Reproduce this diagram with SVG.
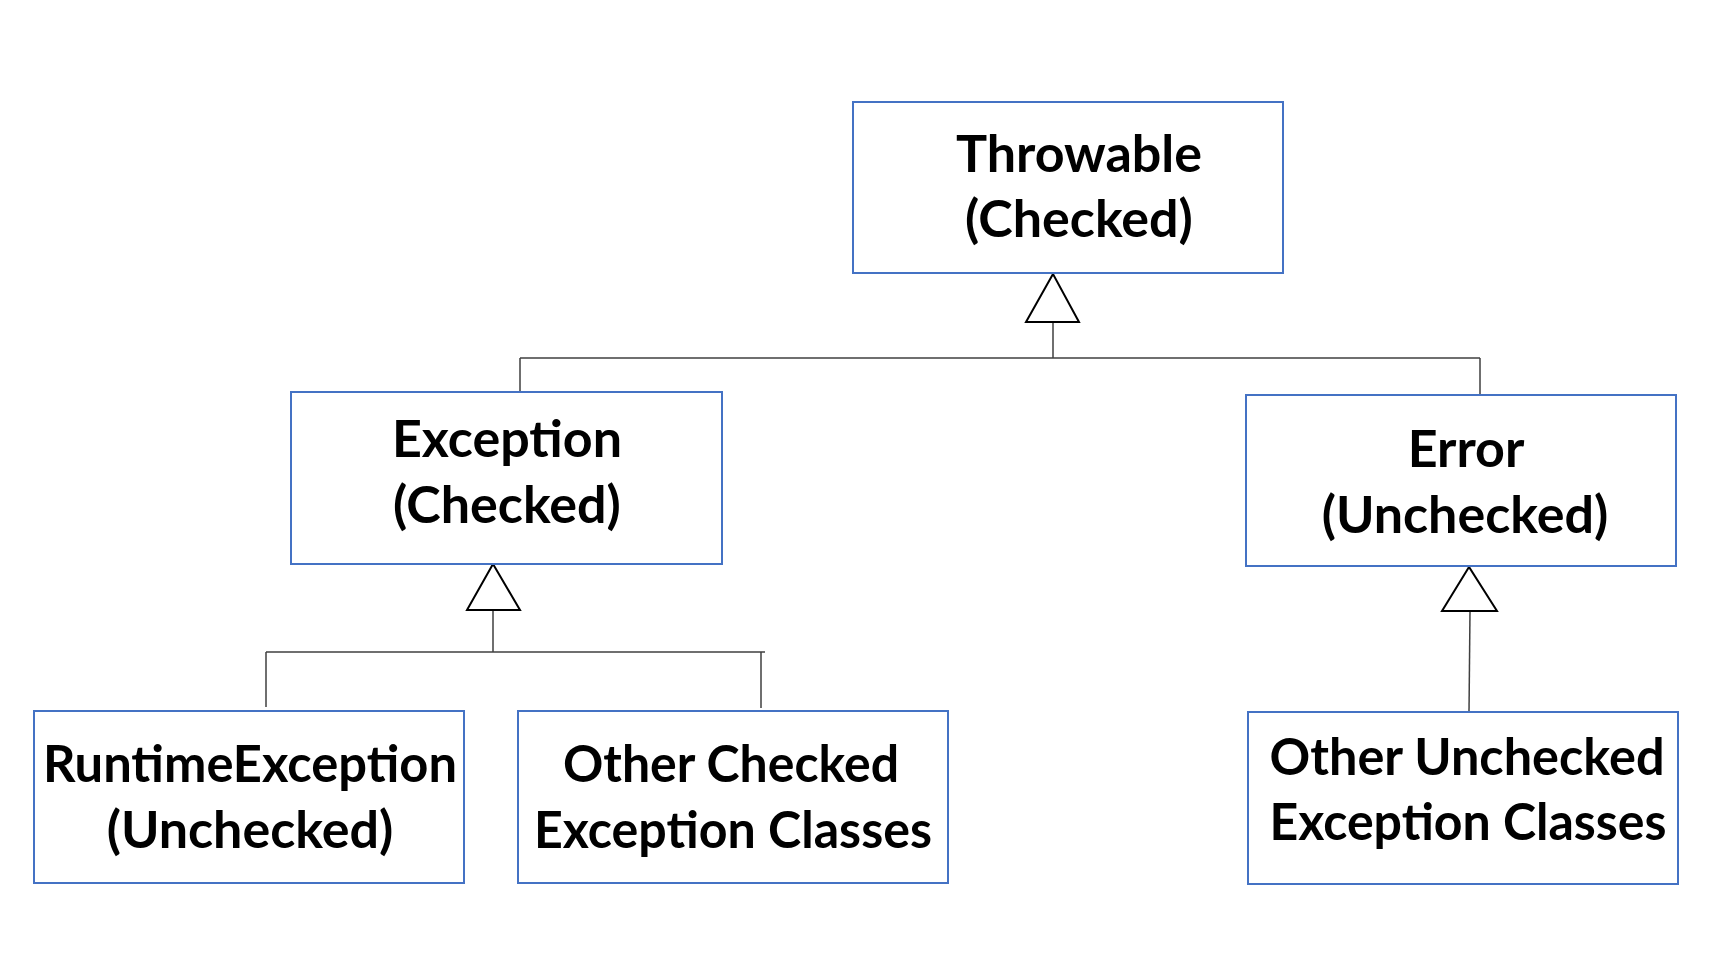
<svg xmlns="http://www.w3.org/2000/svg" width="1724" height="960" viewBox="0 0 1724 960">
<style>
.box{fill:#fff;stroke:#4472C4;stroke-width:2}
.lbl{font-family:Lato,"Open Sans","Liberation Sans",sans-serif;font-weight:bold;font-size:52px;fill:#000;text-anchor:middle}
.con{fill:none;stroke:#404040;stroke-width:1.5}
.tri{fill:#fff;stroke:#000;stroke-width:2}
</style>
<rect width="1724" height="960" fill="#fff"/>
<g id="connectors">
<path class="con" d="M1053 322V358M520 358H1480M520 358V392M1480 358V395"/>
<path class="con" d="M493 610V652M266 652H765M266 652V707M761 652V708"/>
<path class="con" d="M1470 611L1469 712"/>
<polygon class="tri" points="1053,274 1026,322 1079,322"/>
<polygon class="tri" points="493,564 467,610 520,610"/>
<polygon class="tri" points="1469,567 1442,611 1497,611"/>
</g>
<g id="throwable">
<rect class="box" x="853" y="102" width="430" height="171"/>
<text class="lbl" x="1079" y="172">Throwable</text>
<text class="lbl" x="1079" y="237">(Checked)</text>
</g>
<g id="exception">
<rect class="box" x="291" y="392" width="431" height="172"/>
<text class="lbl" x="507" y="457">Exception</text>
<text class="lbl" x="507" y="523">(Checked)</text>
</g>
<g id="error">
<rect class="box" x="1246" y="395" width="430" height="171"/>
<text class="lbl" x="1466" y="467">Error</text>
<text class="lbl" x="1465" y="533">(Unchecked)</text>
</g>
<g id="runtime">
<rect class="box" x="34" y="711" width="430" height="172"/>
<text class="lbl" x="250" y="782" textLength="414" lengthAdjust="spacingAndGlyphs">RuntimeException</text>
<text class="lbl" x="250" y="848">(Unchecked)</text>
</g>
<g id="otherchecked">
<rect class="box" x="518" y="711" width="430" height="172"/>
<text class="lbl" x="731" y="782" textLength="336" lengthAdjust="spacingAndGlyphs">Other Checked</text>
<text class="lbl" x="733" y="848" textLength="398" lengthAdjust="spacingAndGlyphs">Exception Classes</text>
</g>
<g id="otherunchecked">
<rect class="box" x="1248" y="712" width="430" height="172"/>
<text class="lbl" x="1467" y="775" textLength="395" lengthAdjust="spacingAndGlyphs">Other Unchecked</text>
<text class="lbl" x="1468" y="840" textLength="397" lengthAdjust="spacingAndGlyphs">Exception Classes</text>
</g>
</svg>
